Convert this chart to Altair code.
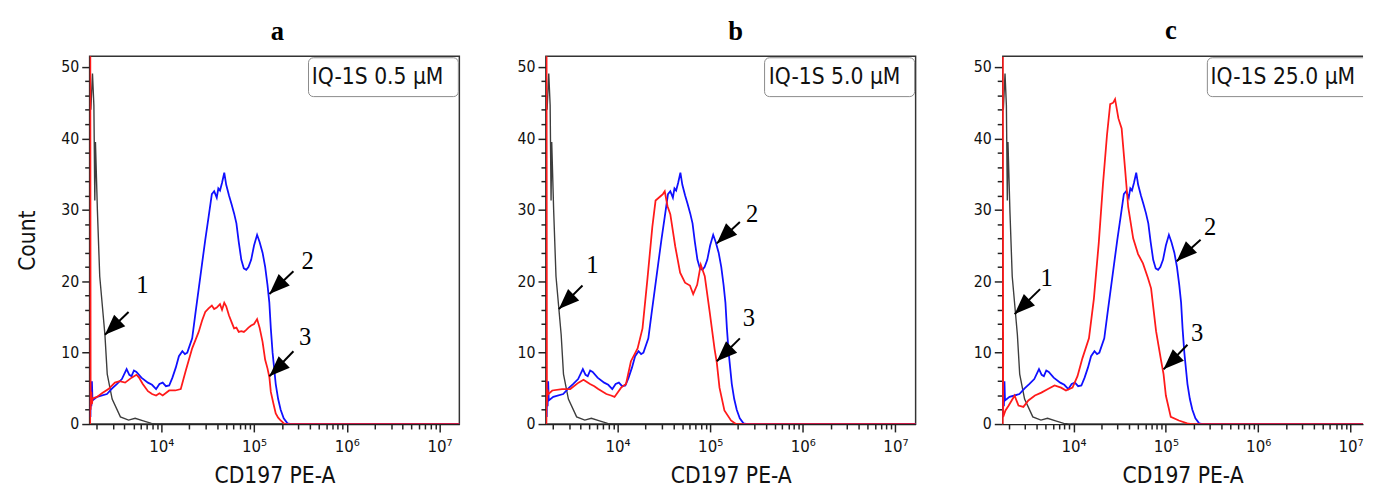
import altair as alt
import pandas as pd

SANS = "DejaVu Sans Condensed, DejaVu Sans"
SERIF = "Liberation Serif"

# ---- data (x as log10 of CD197 PE-A intensity) ----
gray_log = [3.240, 3.258, 3.273, 3.283, 3.290, 3.311, 3.336, 3.392, 3.417, 3.470,
            3.559, 3.647, 3.718, 3.806, 3.894, 3.950, 7.300]
gray_cnt = [44.0, 49.1, 44.6, 31.3, 39.5, 29.9, 20.7, 12.5, 7.0, 3.5,
            1.0, 0.55, 0.8, 0.45, 0.1, 0.0, 0.0]

blue_log = [3.236, 3.240, 3.246, 3.252, 3.258, 3.307, 3.414, 3.470, 3.520, 3.575,
            3.626, 3.655, 3.679, 3.705, 3.732, 3.785, 3.856, 3.900, 3.944, 3.980,
            4.015, 4.050, 4.085, 4.120, 4.156, 4.190, 4.227, 4.255, 4.280, 4.333,
            4.368, 4.403, 4.440, 4.474, 4.510, 4.545, 4.570, 4.598, 4.615, 4.633,
            4.655, 4.679, 4.700, 4.730, 4.757, 4.785, 4.810, 4.835, 4.863, 4.890,
            4.916, 4.940, 4.969, 5.000, 5.033, 5.060, 5.092, 5.120, 5.145, 5.165,
            5.181, 5.200, 5.234, 5.260, 5.287, 5.320, 5.360, 5.400, 7.300]
blue_cnt = [1.0, 6.0, 2.5, 6.0, 3.3, 3.8, 4.2, 5.0, 5.6, 6.3,
            7.7, 6.9, 6.7, 7.5, 7.3, 6.5, 5.8, 5.5, 4.9, 5.6,
            5.8, 5.3, 5.4, 6.5, 7.9, 9.5, 10.2, 9.8, 10.0, 12.0,
            15.5, 18.9, 22.5, 25.8, 29.0, 32.2, 32.6, 31.7, 33.0, 32.7,
            33.8, 35.2, 33.5, 32.0, 30.8, 29.5, 28.1, 25.5, 23.0, 21.8,
            21.6, 22.0, 23.0, 25.0, 26.5, 25.5, 24.0, 22.0, 19.5, 17.0,
            13.4, 10.0, 5.6, 3.5, 2.0, 0.8, 0.1, 0.0, 0.0]

red_a_log = [3.233, 3.234, 3.238, 3.245, 3.252, 3.260, 3.307, 3.360, 3.430, 3.500,
             3.550, 3.610, 3.680, 3.732, 3.760, 3.800, 3.856, 3.900, 3.944, 3.980,
             4.015, 4.085, 4.150, 4.210, 4.262, 4.333, 4.403, 4.440, 4.474, 4.510,
             4.545, 4.570, 4.598, 4.633, 4.655, 4.679, 4.700, 4.730, 4.757, 4.785,
             4.810, 4.835, 4.863, 4.890, 4.916, 4.940, 4.969, 5.000, 5.033, 5.060,
             5.092, 5.120, 5.145, 5.166, 5.181, 5.210, 5.234, 5.260, 5.287, 5.330,
             7.300]
red_a_cnt = [0.0, 60.0, 2.0, 4.5, 2.8, 3.6, 3.8, 4.3, 4.9, 5.8,
             6.0, 5.8, 6.5, 6.9, 6.5, 5.6, 4.6, 4.2, 4.0, 4.3,
             4.0, 4.7, 4.7, 4.9, 7.4, 10.6, 12.9, 14.5, 15.7, 16.2,
             16.6, 16.1, 16.3, 16.8, 16.0, 17.0, 16.5, 15.2, 14.3, 13.4,
             13.5, 12.9, 13.0, 12.9, 13.2, 13.5, 13.8, 14.0, 14.7, 13.5,
             11.5, 9.0, 7.8, 6.5, 4.5, 2.8, 1.5, 0.9, 0.5, 0.0,
             0.0]

red_b_log = [3.233, 3.234, 3.238, 3.245, 3.254, 3.296, 3.402, 3.490, 3.579, 3.633,
             3.703, 3.750, 3.792, 3.880, 3.930, 3.968, 4.039, 4.092, 4.145, 4.217,
             4.270, 4.323, 4.376, 4.411, 4.464, 4.490, 4.510, 4.540, 4.570, 4.623,
             4.676, 4.729, 4.782, 4.817, 4.860, 4.899, 4.942, 4.995, 5.048, 5.072,
             5.101, 5.154, 5.225, 5.278, 7.300]
red_b_cnt = [0.0, 60.0, 2.5, 4.8, 4.2, 4.7, 4.9, 4.9, 5.8, 6.2,
             5.6, 5.3, 4.9, 4.2, 4.0, 3.8, 5.1, 5.6, 8.8, 10.6,
             13.4, 20.3, 27.6, 31.3, 31.9, 32.2, 32.6, 30.5, 29.4, 24.9,
             21.2, 19.8, 19.4, 18.2, 19.5, 22.3, 20.7, 15.7, 10.5, 8.6,
             5.1, 1.9, 0.5, 0.0, 0.0]

red_c_log = [3.233, 3.234, 3.238, 3.263, 3.298, 3.330, 3.362, 3.385, 3.404, 3.457,
             3.511, 3.582, 3.652, 3.723, 3.795, 3.865, 3.918, 3.989, 4.043, 4.096,
             4.167, 4.220, 4.273, 4.319, 4.362, 4.397, 4.430, 4.450, 4.486, 4.521,
             4.557, 4.592, 4.646, 4.699, 4.752, 4.805, 4.840, 4.894, 4.947, 4.975,
             5.000, 5.053, 5.141, 5.231, 5.280, 7.300]
red_c_cnt = [0.0, 60.0, 1.0, 1.9, 2.6, 3.3, 4.0, 3.2, 2.6, 2.4,
             3.3, 4.0, 4.4, 4.9, 5.4, 5.1, 4.7, 5.1, 6.7, 9.2,
             12.0, 17.5, 25.3, 33.6, 40.4, 44.8, 45.0, 45.5, 42.8, 41.4,
             35.9, 30.4, 26.0, 23.8, 22.5, 20.5, 19.0, 13.0, 9.0, 7.0,
             4.0, 1.0, 0.5, 0.1, 0.0, 0.0]

panel_titles = ["a", "b", "c"]
legend_texts = ["IQ-1S 0.5 µM", "IQ-1S 5.0 µM", "IQ-1S 25.0 µM"]
arrow_labels = ["1", "2", "3"]

# arrows: tip, tail and label positions (log10 intensity, count)
arrows = {
    "a": dict(tip_log=[3.392, 5.166, 5.166], tip_cnt=[12.5, 18.2, 6.7],
              tail_log=[3.647, 5.425, 5.425], tail_cnt=[15.7, 21.4, 10.2],
              lab_log=[3.795, 5.577, 5.551], lab_cnt=[19.4, 22.8, 12.2]),
    "b": dict(tip_log=[3.367, 5.072, 5.072], tip_cnt=[16.1, 25.3, 8.8],
              tail_log=[3.622, 5.321, 5.321], tail_cnt=[19.4, 28.3, 12.0],
              lab_log=[3.728, 5.454, 5.419], lab_cnt=[22.3, 29.4, 14.8]),
    "c": dict(tip_log=[3.362, 5.117, 4.975], tip_cnt=[15.4, 22.8, 7.66],
              tail_log=[3.638, 5.376, 5.234], tail_cnt=[18.9, 25.8, 11.1],
              lab_log=[3.710, 5.479, 5.340], lab_cnt=[20.5, 27.6, 12.7]),
}

y_ticks = list(range(0, 52, 2))
decades = [10**4, 10**5, 10**6, 10**7]
x_ticks = [k * 10**n for n in range(3, 7) for k in range(1, 10) if k * 10**n > 1700] + [10**7]

X_MIN_LOG = 3.227
H = 374

major_x_test = " || ".join(f"datum.value == {d}" for d in decades)
x_label_expr = ("datum.value == 10000 ? '10\u2074' : datum.value == 100000 ? '10\u2075' : "
                "datum.value == 1000000 ? '10\u2076' : datum.value == 10000000 ? '10\u2077' : ''")

ARROW_HEAD = "M0,0 L0.7,1.8 L-0.7,1.8 Z"


def make_panel(key, red_log, red_cnt, width, x_max_log, box_x, text_x, box_x2,
               legend_text, title_dx, y_title, trimmed):
    xscale = alt.Scale(type="log", domain=[10**X_MIN_LOG, 10**x_max_log], nice=False)
    yscale = alt.Scale(domain=[0, 51.5], nice=False)
    xaxis = alt.Axis(values=x_ticks, labelExpr=x_label_expr,
                     tickSize={"condition": {"test": major_x_test, "value": 8}, "value": 5},
                     tickWidth=1.5, tickColor="#222", domainColor="#222", domainWidth=1.2,
                     labelFont=SANS, labelFontSize=17, labelPadding=7, labelColor="#111",
                     labelFlush=False, labelOverlap=False, grid=False,
                     title="CD197 PE-A", titleFont=SANS, titleFontSize=23,
                     titleFontWeight="normal", titleColor="#111", titlePadding=10)
    yaxis = alt.Axis(values=y_ticks, labelExpr="datum.value % 10 == 0 ? datum.label : ''",
                     tickSize={"condition": {"test": "datum.value % 10 == 0", "value": 8}, "value": 5},
                     tickWidth=1.5, tickColor="#222", domainColor="#222", domainWidth=1.2,
                     labelFont=SANS, labelFontSize=16, labelPadding=3, labelColor="#111",
                     labelOverlap=False, grid=False,
                     title=y_title, titleFont=SANS, titleFontSize=23,
                     titleFontWeight="normal", titleColor="#111", titlePadding=22)

    def series(logs, cnts):
        return pd.DataFrame({"intensity": [10**v for v in logs], "count": cnts})

    def line(df, color, w):
        return alt.Chart(df).mark_line(clip=True, strokeWidth=w, color=color).encode(
            x=alt.X("intensity:Q", scale=xscale, axis=xaxis),
            y=alt.Y("count:Q", scale=yscale, axis=yaxis),
        )

    gray = line(series(gray_log, gray_cnt), "#3d3d3d", 1.4)
    blue = line(series(blue_log, blue_cnt), "#1010ff", 1.8)
    red = line(series(red_log, red_cnt), "#ff1a1a", 1.8)

    a = arrows[key]
    adf = pd.DataFrame({
        "tip_x": [10**v for v in a["tip_log"]], "tip_y": a["tip_cnt"],
        "tail_x": [10**v for v in a["tail_log"]], "tail_y": a["tail_cnt"],
        "lab_x": [10**v for v in a["lab_log"]], "lab_y": a["lab_cnt"],
        "label": arrow_labels,
    })
    shaft = alt.Chart(adf).mark_rule(strokeWidth=2, color="black").encode(
        x=alt.X("tail_x:Q", scale=xscale, axis=xaxis),
        y=alt.Y("tail_y:Q", scale=yscale, axis=yaxis),
        x2="tip_x:Q", y2="tip_y:Q")
    head = alt.Chart(adf).mark_point(shape=ARROW_HEAD, size=540, angle=226, filled=True,
                                     color="black", opacity=1, strokeWidth=0).encode(
        x=alt.X("tip_x:Q", scale=xscale, axis=xaxis),
        y=alt.Y("tip_y:Q", scale=yscale, axis=yaxis))
    labels = alt.Chart(adf).mark_text(font=SERIF, fontSize=25, align="center",
                                      baseline="middle", color="black").encode(
        x=alt.X("lab_x:Q", scale=xscale, axis=xaxis),
        y=alt.Y("lab_y:Q", scale=yscale, axis=yaxis),
        text="label:N")

    ldf = pd.DataFrame({"legend": [legend_text]})
    box = alt.Chart(ldf).mark_rect(clip=True, cornerRadius=5, fill="white",
                                   stroke="#8a8a8a", strokeWidth=1).encode(
        x=alt.value(box_x), x2=alt.value(box_x2), y=alt.value(1.5), y2=alt.value(41))
    ltext = alt.Chart(ldf).mark_text(font=SANS, fontSize=23, align="left",
                                     baseline="alphabetic", color="#111").encode(
        x=alt.value(text_x), y=alt.value(28.5), text="legend:N")

    layers = [gray, blue, red, shaft, head, labels, box, ltext]
    if trimmed:
        top = alt.Chart(ldf).mark_rule(color="#333", strokeWidth=1.5).encode(
            x=alt.value(0), x2=alt.value(width), y=alt.value(0))
        layers.append(top)

    ch = alt.layer(*layers).properties(
        width=width, height=H,
        title=alt.TitleParams(text=panel_titles["abc".index(key)], font=SERIF, fontSize=27,
                              fontWeight="bold", color="black", anchor="middle",
                              offset=11, dx=title_dx),
    )
    if trimmed:
        ch = ch.properties(view=alt.ViewBackground(stroke="transparent"))
    return ch


WC = 367
pa = make_panel("a", red_a_log, red_a_cnt, 376, 7.214, 222.6, 226, 375,
                legend_texts[0], 3, "Count", False)
pb = make_panel("b", red_b_log, red_b_cnt, 376, 7.218, 222.4, 226.7, 375,
                legend_texts[1], 5, None, False)
pc = make_panel("c", red_c_log, red_c_cnt, WC, 3.227 + WC / 93.9, 208.7, 212, 420,
                legend_texts[2], -12, None, True)

chart = alt.hconcat(pa, pb, pc, spacing=56).properties(
    padding={"left": 7, "top": 4, "right": 0, "bottom": 0}
).configure_view(stroke="#333", strokeWidth=1.5)

chart.save("out.html", embed_options={"renderer": "svg", "actions": False})
